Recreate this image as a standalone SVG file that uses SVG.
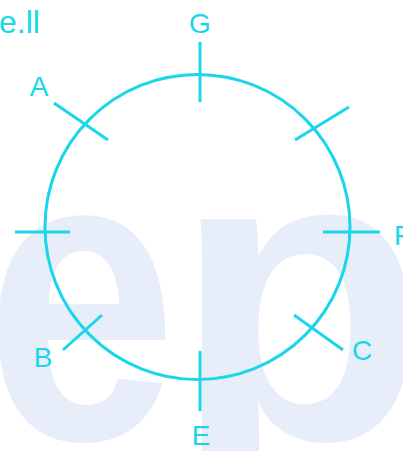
<svg xmlns="http://www.w3.org/2000/svg" width="403" height="451" viewBox="0 0 403 451">
<style>
.wm{font-family:"Liberation Sans",Arial,sans-serif;font-weight:bold;font-size:416px;fill:#e7eefa}
.ln{stroke:#1ad6ea;stroke-width:3;fill:none;stroke-linecap:butt}
.lb{font-family:"Liberation Sans",Arial,sans-serif;font-size:28px;fill:#1ad6ea}
</style>
<rect width="403" height="451" fill="#ffffff"/>
<g id="watermark">
<text class="wm" transform="translate(-15,439) scale(0.83,1)" x="0" y="0">e</text>
<text class="wm" transform="translate(173,439)" x="0" y="0">p</text>
</g>
<text id="corner-text" x="-1" y="33" style="font-family:'Liberation Sans',Arial,sans-serif;font-size:32px;fill:#1ad6ea">e.ll</text>
<g id="circle"><circle class="ln" cx="197.5" cy="227" r="152.5"/></g>
<g id="connectors">
<g id="G"><line class="ln" x1="200" y1="42" x2="200" y2="102"/><text class="lb" x="200" y="33" text-anchor="middle">G</text></g>
<g id="A"><line class="ln" x1="54" y1="103" x2="108" y2="140"/><text class="lb" x="39" y="96" text-anchor="middle">A</text></g>
<g id="UR"><line class="ln" x1="295" y1="140" x2="349" y2="107"/></g>
<g id="L"><line class="ln" x1="15" y1="232" x2="70" y2="232"/></g>
<g id="F"><line class="ln" x1="323" y1="232" x2="380" y2="232"/><text class="lb" x="394" y="245">F</text></g>
<g id="B"><line class="ln" x1="63" y1="350" x2="102" y2="315"/><text class="lb" x="43" y="367" text-anchor="middle">B</text></g>
<g id="C"><line class="ln" x1="294" y1="315" x2="343" y2="350"/><text class="lb" x="362" y="360" text-anchor="middle">C</text></g>
<g id="E"><line class="ln" x1="200" y1="351" x2="200" y2="411"/><text class="lb" x="201" y="445" text-anchor="middle">E</text></g>
</g>
</svg>
